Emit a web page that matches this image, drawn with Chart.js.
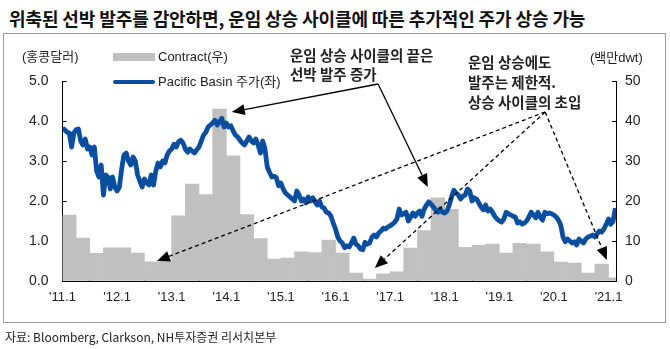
<!DOCTYPE html>
<html>
<head>
<meta charset="utf-8">
<script src="https://cdn.jsdelivr.net/npm/chart.js@4"></script>
<style>
  body{margin:0;width:670px;height:349px;background:#fff;position:relative;overflow:hidden}
  #title{position:absolute;left:9px;top:5px;line-height:22px;font:bold 18px 'Noto Sans CJK KR',sans-serif;color:#111;white-space:nowrap;letter-spacing:-0.1px}
  #frame{position:absolute;left:3px;top:33px;width:661px;height:288px;border:1px solid #9a9a9a}
  #src{position:absolute;left:5px;top:328px;line-height:18px;font:12px 'Liberation Sans Narrow','Noto Sans CJK KR',sans-serif;color:#222;white-space:nowrap}
  canvas{position:absolute;left:0;top:0}
</style>
</head>
<body>
<div id="title">위축된 선박 발주를 감안하면, 운임 상승 사이클에 따른 추가적인 주가 상승 가능</div>
<div id="frame"></div>
<canvas id="c" width="670" height="349"></canvas>
<div id="src">자료: Bloomberg, Clarkson, NH투자증권 리서치본부</div>
<script>
// Pacific Basin share price (HKD), two readings per month
const price11 = [3.82,3.78,3.72,3.7,3.35,3.7,3.78,3.8,3.5,3.4,3.55,3.3,3.35,3.15,3.35,2.75,2.6,2.9,2.15,2.65,2.6,2.3,2.6,2.35];
const price12 = [2.25,2.35,2.8,3.15,3.2,3.0,2.9,3.1,3.0,2.65,2.5,2.35,2.55,2.45,2.4,2.65,2.4,2.75,2.95,2.85,3.0,2.95,3.15,3.25];
const price13 = [3.3,3.42,3.35,3.48,3.52,3.45,3.3,3.22,3.3,3.25,3.2,3.28,3.35,3.5,3.65,3.72,3.85,3.9,3.95,4.02,3.9,3.98,4.07,3.85];
const price14 = [3.95,3.85,3.88,3.75,3.65,3.6,3.52,3.45,3.4,3.5,3.6,3.5,3.45,3.55,3.4,3.2,3.5,3.3,2.85,2.72,2.6,2.62,2.58,2.38];
const price15 = [2.45,2.3,2.2,2.15,2.1,2.05,2.0,2.25,2.15,2.0,2.05,1.95,2.1,2.0,2.08,1.98,1.9,2.0,1.85,1.82,1.72,1.7,1.62,1.45];
const price16 = [1.3,1.1,1.0,0.95,0.83,0.88,0.85,0.95,1.07,0.92,0.88,0.8,0.78,0.97,0.92,0.95,1.1,1.15,1.1,1.2,1.25,1.32,1.3,1.35];
const price17 = [1.38,1.42,1.47,1.55,1.8,1.65,1.68,1.72,1.5,1.6,1.7,1.62,1.7,1.75,1.62,1.8,1.9,1.98,1.92,1.85,1.78,1.72,1.8,1.72];
const price18 = [1.7,1.75,1.9,2.1,2.27,2.2,2.15,2.05,2.12,2.15,2.3,2.25,2.0,2.08,2.05,1.95,1.85,1.78,1.9,1.75,1.8,1.72,1.62,1.55];
const price19 = [1.5,1.47,1.55,1.72,1.68,1.65,1.62,1.6,1.45,1.48,1.42,1.45,1.5,1.6,1.72,1.65,1.58,1.72,1.6,1.52,1.72,1.68,1.7,1.68];
const price20 = [1.65,1.6,1.52,1.4,1.1,0.98,1.05,1.0,0.95,0.98,0.9,1.05,1.0,0.95,1.05,1.1,1.12,1.15,1.1,1.18,1.25,1.22,1.3,1.42];
const price21 = [1.55,1.42,1.5,1.82];

// new contracts, million dwt per quarter, 2011Q1 .. 2021Q1
const contract = [16.5,10.7,6.9,8.3, 8.3,7.0,4.8,4.8, 16.3,24.2,21.6,43.0, 31.3,16.6,10.6,5.5,
  5.7,7.3,7.1,10.2, 7.0,2.0,0.5,1.8, 2.3,8.2,12.6,20.8, 17.9,8.4,8.9,9.2,
  7.0,9.4,9.2,7.3, 4.7,4.5,2.0,4.2, 0.8];

const yearTicks = ["'11.1","'12.1","'13.1","'14.1","'15.1","'16.1","'17.1","'18.1","'19.1","'20.1","'21.1"];

const X0 = 2011, XMAX = 2021.137;
const BLUE = '#0a4f9f', GREY = '#c0c0c0';
const TXT = '#222';
const price = [].concat(price11, price12, price13, price14, price15, price16, price17, price18, price19, price20, price21);
const lineData = price.map((v, i) => ({x: X0 + i / 24, y: v}));
const barData = contract.map((v, i) => ({x: X0 + 0.125 + i * 0.25, y: v}));

function arrow(ctx, x1, y1, x2, y2, dashed){
  const a = Math.atan2(y2 - y1, x2 - x1), L = 13, W = 5.5;
  const bx = x2 - L * Math.cos(a), by = y2 - L * Math.sin(a);
  ctx.setLineDash(dashed ? [4, 3] : []);
  ctx.lineWidth = 1.3;
  ctx.beginPath(); ctx.moveTo(x1, y1); ctx.lineTo(bx, by); ctx.stroke();
  ctx.setLineDash([]);
  ctx.beginPath();
  ctx.moveTo(x2, y2);
  ctx.lineTo(bx + W * Math.sin(a), by - W * Math.cos(a));
  ctx.lineTo(bx - W * Math.sin(a), by + W * Math.cos(a));
  ctx.closePath(); ctx.fill();
}

const overlay = {
  id: 'overlay',
  afterDraw(chart){
    const {ctx, scales: {x, yL}} = chart;
    const ln = chart.data.datasets[0], bar = chart.data.datasets[1];
    ctx.save();
    ctx.textBaseline = 'middle';
    ctx.fillStyle = TXT;
    ctx.font = "13px 'Liberation Sans', 'Noto Sans CJK KR', sans-serif";
    ctx.fillText('(홍콩달러)', 22, 57);
    ctx.fillText('(백만dwt)', 590, 58);

    // legend
    ctx.fillStyle = bar.backgroundColor;
    ctx.fillRect(113, 53, 42, 8);
    ctx.strokeStyle = ln.borderColor; ctx.lineWidth = 4; ctx.lineCap = 'round';
    ctx.beginPath(); ctx.moveTo(115, 82); ctx.lineTo(153, 82); ctx.stroke();
    ctx.lineCap = 'butt';
    ctx.fillStyle = TXT;
    ctx.fillText(bar.label, 158, 57);
    ctx.fillText(ln.label, 158, 82);

    // notes
    ctx.font = "bold 14.5px 'Noto Sans CJK KR', sans-serif";
    ctx.fillText('운임 상승 사이클의 끝은', 290, 55);
    ctx.fillText('선박 발주 증가', 290, 74);
    ctx.fillText('운임 상승에도', 468, 62);
    ctx.fillText('발주는 제한적.', 468, 82);
    ctx.fillText('상승 사이클의 초입', 468, 102);

    // arrows, anchored in data units (year, left-axis value)
    const notes = [
      [2016.78, 4.925, 2014.10, 4.225, false],
      [2016.78, 4.925, 2017.69, 2.35, false],
      [2019.84, 4.225, 2012.73, 0.5, true],
      [2019.84, 4.225, 2016.72, 0.325, true],
      [2019.84, 4.225, 2020.97, 0.525, true],
    ];
    ctx.strokeStyle = '#000'; ctx.fillStyle = '#000';
    notes.forEach(n => arrow(ctx, x.getPixelForValue(n[0]), yL.getPixelForValue(n[1]),
      x.getPixelForValue(n[2]), yL.getPixelForValue(n[3]), n[4]));
    ctx.restore();
  }
};

const tickFont = {family: "'Liberation Sans', Arial, sans-serif", size: 13};

new Chart(document.getElementById('c'), {
  type: 'line',
  data: {
    datasets: [
      {type: 'line', label: 'Pacific Basin 주가(좌)', data: lineData, yAxisID: 'yL',
       borderColor: BLUE, borderWidth: 4.8, pointRadius: 0, tension: 0,
       borderJoinStyle: 'round', order: 0},
      {type: 'bar', label: 'Contract(우)', data: barData, yAxisID: 'yR',
       backgroundColor: GREY, borderWidth: 0, barPercentage: 1, categoryPercentage: 1, order: 1}
    ]
  },
  options: {
    responsive: false,
    animation: false,
    layout: {padding: {top: 81, left: 0, right: 0, bottom: 0}},
    plugins: {legend: {display: false}, tooltip: {enabled: false}},
    scales: {
      x: {
        type: 'linear', min: X0, max: XMAX, offset: false,
        afterBuildTicks: s => { s.ticks = yearTicks.map((t, i) => ({value: X0 + i})); },
        ticks: {callback: (v, i) => yearTicks[i], font: tickFont, color: TXT, padding: 13, maxRotation: 0, autoSkip: false},
        grid: {drawOnChartArea: false, tickLength: -4, color: '#000'},
        border: {color: '#000'},
        afterFit: s => { s.height = 68; }
      },
      yL: {
        position: 'left', min: 0, max: 5,
        ticks: {stepSize: 1, callback: v => v.toFixed(1), font: {family: tickFont.family, size: 14}, color: TXT, padding: 18},
        grid: {drawOnChartArea: false, tickLength: -4, color: '#000'},
        border: {color: '#000'},
        afterFit: s => { s.width = 62.5; }
      },
      yR: {
        position: 'right', min: 0, max: 50,
        ticks: {stepSize: 10, font: {family: tickFont.family, size: 14}, color: TXT, padding: 13},
        grid: {drawOnChartArea: false, tickLength: -4, color: '#000'},
        border: {color: '#000'},
        afterFit: s => { s.width = 54; }
      }
    }
  },
  plugins: [overlay]
});
</script>
</body>
</html>
